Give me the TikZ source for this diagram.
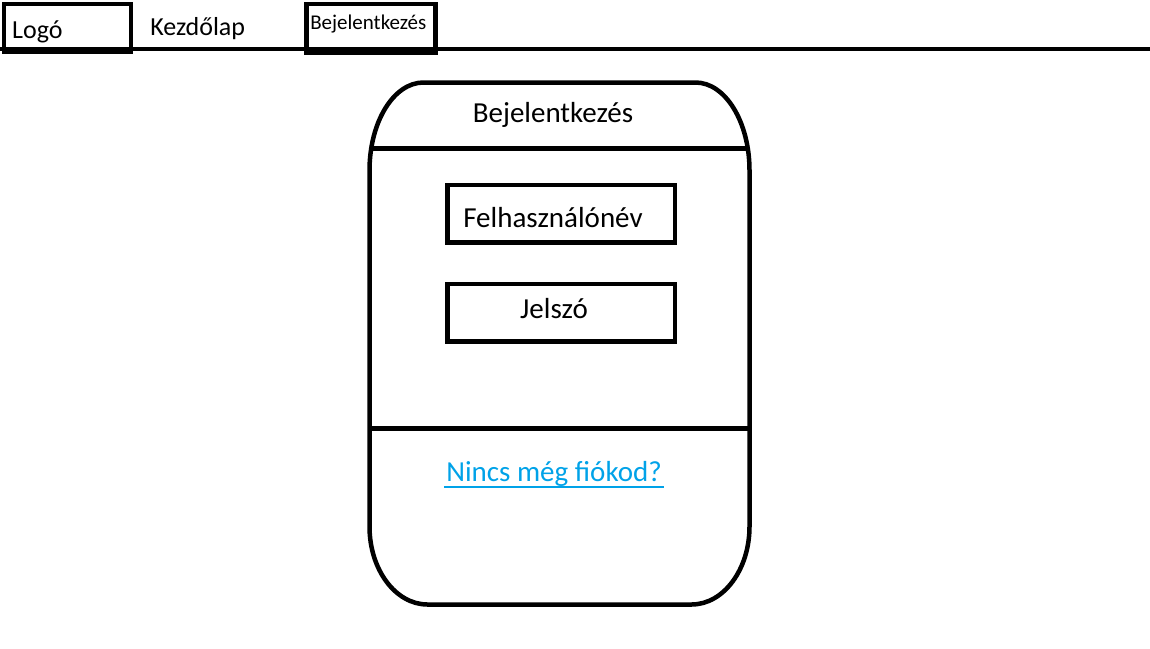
\documentclass[tikz,border=0pt]{standalone}
\usepackage{fontspec}
\setmainfont{Carlito}
\usetikzlibrary{positioning}
\definecolor{linkblue}{RGB}{0,162,232}

\begin{document}
\begin{tikzpicture} [x=1pt, y=-1pt, line width=4.5pt,
    box/.style={draw, rectangle, inner sep=0pt},
    field/.style={box, minimum width=227.5pt, minimum height=57.5pt},
    txt/.style={inner sep=0pt},
    big/.style={txt, font=\fontsize{29}{35}\selectfont},
    nav/.style={txt, font=\fontsize{26}{31}\selectfont}]

\useasboundingbox (0,0) rectangle (1150,648);

% menu bar
\node [box, anchor=north west, minimum width=127pt, minimum height=47.5pt] (logo) at (1.5,1.5) {};
\node [box, anchor=north west, minimum width=129pt, minimum height=49pt] (login) at (304,1.5) {};
\node [nav, anchor=base west] (logo text) at (10,38) {Logó};
\node [nav, anchor=base west] (home) at (148,35) {Kezdőlap};
\node [txt, anchor=base west, font=\fontsize{21}{25}\selectfont] (login text) at (308,29) {Bejelentkezés};
\coordinate (bar start) at (0,49);
\coordinate (bar end) at (1150,49);
\draw (bar start) -- (bar end);

% card
\draw (423.5,82.5) -- (695.5,82.5)
    .. controls (725.3,82.5) and (749.5,121.9) .. (749.5,170.5) -- (749.5,526.5)
    .. controls (749.5,569.6) and (723.5,604.5) .. (691.5,604.5) -- (427.5,604.5)
    .. controls (395.5,604.5) and (369.5,569.6) .. (369.5,526.5) -- (369.5,170.5)
    .. controls (369.5,121.9) and (393.7,82.5) .. (423.5,82.5) -- cycle;
\coordinate (head left) at (371,148.3);
\coordinate (head right) at (748,148.3);
\coordinate (foot left) at (369.5,428.3);
\coordinate (foot right) at (749.5,428.3);
\draw (head left) -- (head right);
\draw (foot left) -- (foot right);

\node [big, anchor=base] (title) at (553,122.7) {Bejelentkezés};

\node [field] (user) at (561.25,213.75) {};
\node [field] (pass) at (561.25,312.75) {};
\node [big, anchor=base] (user text) at (553,227.7) {Felhasználónév};
\node [big, anchor=base] (pass text) at (554,318.3) {Jelszó};

\node [big, anchor=base, text=linkblue] (signup) at (554,481.7) {Nincs még fiókod?};
\draw [linkblue, line width=2pt] ([yshift=-4.8pt]signup.base west) -- ([yshift=-4.8pt]signup.base east);

\end{tikzpicture}
\end{document}
